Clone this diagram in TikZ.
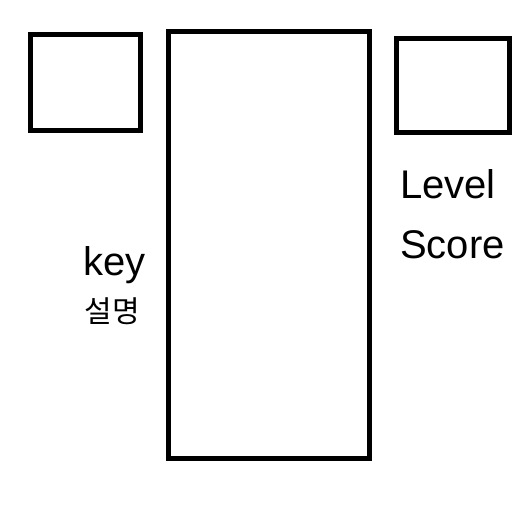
\documentclass[tikz,border=0pt]{standalone}
\usepackage{fontspec}
\setmainfont{Liberation Sans}
\newfontfamily\krfont{Noto Sans CJK KR}
\usepackage{tikz}
\usetikzlibrary{positioning}

\tikzset{
  panel/.style={draw=black, line width=5pt},
  label/.style={font=\fontsize{40}{40}\selectfont, inner sep=0pt, anchor=base west}
}

\begin{document}
\begin{tikzpicture}[x=1pt, y=-1pt]
      % Canvas
      \useasboundingbox (0,0) rectangle (530,511);
      % Left small box
      \draw[panel] (30.5,34.5) rectangle (140,130.5);
      % Centre tall box
      \draw[panel] (168.5,31.8) rectangle (369.5,458.3);
      % Right small box
      \draw[panel] (396.5,38.5) rectangle (509.5,132);

      % Labels right
      \node[label] (level) at (400,198) {Level};
      \node[label] (score) at (400,258) {Score};
      % Labels left
      \node[label] (key) at (83,275) {key};
      \node[font=\krfont\fontsize{30}{30}\selectfont, inner sep=0pt] (desc) at (112,311) {설명};
    \end{tikzpicture}
\end{document}
